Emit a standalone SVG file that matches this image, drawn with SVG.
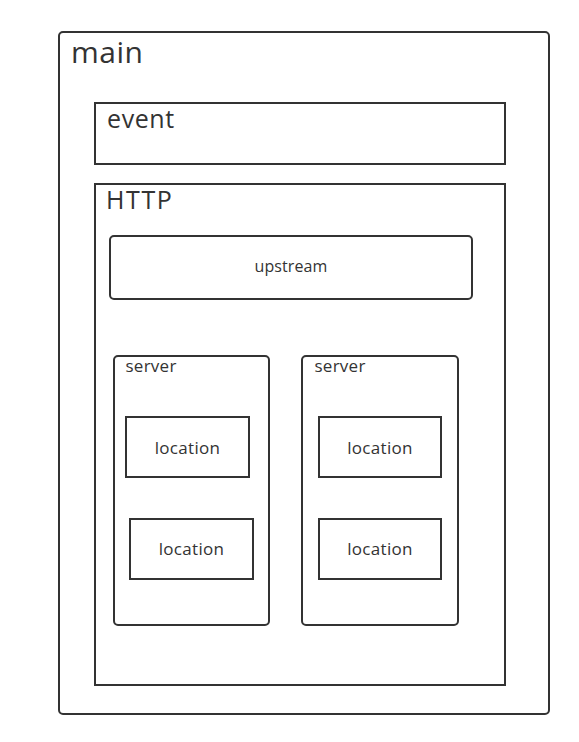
<svg xmlns="http://www.w3.org/2000/svg" width="579" height="742" viewBox="0 0 579 742">
<style>
.box{fill:#fff;stroke:#333;stroke-width:2}
.t{font-family:"Open Sans","Noto Sans","DejaVu Sans",sans-serif;fill:#333}
.c{text-anchor:middle}
.loc{font-size:17px;letter-spacing:0.3px}
.srv{font-size:17px;letter-spacing:0.25px}
</style>
<rect width="579" height="742" fill="#fff"/>
<g id="main"><rect class="box" x="59" y="32" width="490" height="682" rx="4"/><text class="t" x="71" y="63" font-size="30" letter-spacing="0.5">main</text></g>
<g id="event"><rect class="box" x="95" y="103" width="410" height="61"/><text class="t" x="107" y="128" font-size="25" letter-spacing="0.6">event</text></g>
<g id="http"><rect class="box" x="95" y="184" width="410" height="501"/><text class="t" x="106" y="209" font-size="25" letter-spacing="1.6">HTTP</text></g>
<g id="upstream"><rect class="box" x="110" y="236" width="362" height="63" rx="4"/><text class="t c" x="291" y="272" font-size="16" letter-spacing="0.1">upstream</text></g>
<g id="server1"><rect class="box" x="114" y="356" width="155" height="269" rx="4"/><text class="t srv" x="125.5" y="372">server</text></g>
<g id="server2"><rect class="box" x="302" y="356" width="156" height="269" rx="4"/><text class="t srv" x="314.5" y="372">server</text></g>
<g id="location1"><rect class="box" x="126" y="417" width="123" height="60"/><text class="t c loc" x="187.5" y="454">location</text></g>
<g id="location2"><rect class="box" x="130" y="519" width="123" height="60"/><text class="t c loc" x="191.5" y="555">location</text></g>
<g id="location3"><rect class="box" x="319" y="417" width="122" height="60"/><text class="t c loc" x="380" y="454">location</text></g>
<g id="location4"><rect class="box" x="319" y="519" width="122" height="60"/><text class="t c loc" x="380" y="555">location</text></g>
<g id="connectors"></g>
</svg>
